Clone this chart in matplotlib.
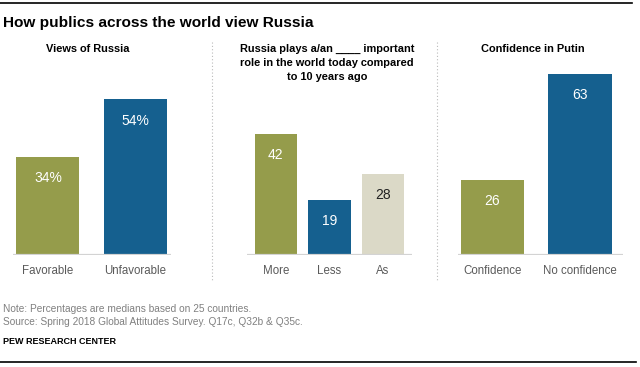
import matplotlib
matplotlib.use("Agg")
import matplotlib.pyplot as plt
from matplotlib.lines import Line2D

# --- data ---
views_labels = ["Favorable", "Unfavorable"]
views_values = [34, 54]

role_labels = ["More", "Less", "As"]
role_values = [42, 19, 28]

putin_labels = ["Confidence", "No confidence"]
putin_values = [26, 63]

GREEN = "#959C4B"
BLUE = "#15608F"
BEIGE = "#DBD9C7"

W, H = 640, 367
fig = plt.figure(figsize=(W / 100, H / 100), dpi=100)
fig.patch.set_facecolor("white")

BOLDF = ["Liberation Sans", "DejaVu Sans"]
SANS = ["Liberation Sans", "DejaVu Sans"]


def fx(x):
    return x / W


def fy(y):
    return 1 - y / H


def add_panel(x0, x1, xlim, labels, values, colors, txtcolors, fmt, width):
    # baseline at y=255 px, 2.88 px per unit
    base = 255
    ymax = 70
    top = base - ymax * 2.88
    ax = fig.add_axes([fx(x0), fy(base), fx(x1) - fx(x0), (base - top) / H])
    xs = range(len(values))
    ax.bar(xs, values, width=width, color=colors, edgecolor="none", zorder=2)
    ax.axhline(0, color="#d3d3d3", lw=1.6, zorder=3)
    ax.set_xlim(*xlim)
    ax.set_ylim(0, ymax)
    ax.axis("off")
    for x, v, c in zip(xs, values, txtcolors):
        ax.text(x, v - 7.3, fmt.format(v), ha="center", va="center",
                color=c, fontsize=10, family=SANS)
    for x, lab in zip(xs, labels):
        ax.annotate(lab, (x, 0), xytext=(0, -11.5), textcoords="offset points",
                    ha="center", va="center", color="#5a5a5a", fontsize=8.3,
                    family=SANS, annotation_clip=False)
    return ax


add_panel(13, 171, (-0.4, 1.406), views_labels, views_values,
          [GREEN, BLUE], ["white", "white"], "{}%", 0.72)
add_panel(247, 412, (-0.54, 2.54), role_labels, role_values,
          [GREEN, BLUE, BEIGE], ["white", "white", "#222222"], "{}", 0.785)
add_panel(458, 623, (-0.39, 1.49), putin_labels, putin_values,
          [GREEN, BLUE], ["white", "white"], "{}", 0.72)

# panel titles
fig.text(fx(88), fy(49), "Views of Russia", ha="center", va="center",
         fontsize=7.9, fontweight="bold", family=BOLDF)
for i, line in enumerate(["Russia plays a/an ____ important",
                          "role in the world today compared",
                          "to 10 years ago"]):
    fig.text(fx(327), fy(49 + 14 * i), line, ha="center", va="center",
             fontsize=7.9, fontweight="bold", family=BOLDF)
fig.text(fx(533), fy(49), "Confidence in Putin", ha="center", va="center",
         fontsize=7.9, fontweight="bold", family=BOLDF)

# dotted separators
for sx in (212, 437):
    fig.add_artist(Line2D([fx(sx), fx(sx)], [fy(42), fy(282)], color="#bbbbbb",
                          lw=0.8, linestyle=(0, (1, 2))))

# main title
fig.text(fx(3), fy(23), "How publics across the world view Russia", ha="left",
         va="center", fontsize=11.1, fontweight="bold", family=BOLDF)

# rules
fig.add_artist(Line2D([0, fx(632)], [fy(3), fy(3)], color="black", lw=1.2))
fig.add_artist(Line2D([0, fx(636)], [fy(362), fy(362)], color="black", lw=1.2))

# footer
fig.text(fx(3), fy(309), "Note: Percentages are medians based on 25 countries.",
         ha="left", va="center", fontsize=7.3, color="#808080", family=SANS)
fig.text(fx(3), fy(322), "Source: Spring 2018 Global Attitudes Survey. Q17c, Q32b & Q35c.",
         ha="left", va="center", fontsize=7.3, color="#808080", family=SANS)
fig.text(fx(3), fy(342), "PEW RESEARCH CENTER", ha="left", va="center",
         fontsize=6.5, fontweight="bold", family=BOLDF)

fig.savefig("out.png", dpi=100, facecolor="white")
